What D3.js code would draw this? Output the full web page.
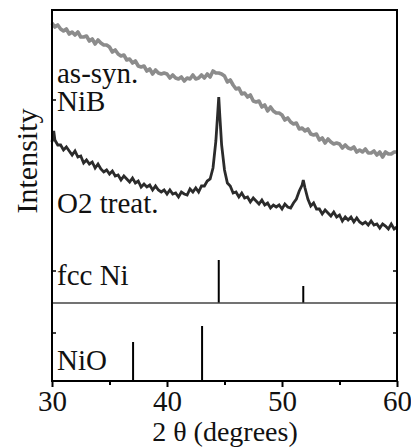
<!DOCTYPE html>
<html>
<head>
<meta charset="utf-8">
<script src="https://cdn.jsdelivr.net/npm/d3@7"></script>
</head>
<body style="margin:0">
<svg id="chart" width="411" height="447" font-family="Liberation Serif"></svg>
<script>
// [2 theta, intensity (a.u.)]
const asSynNiB = [
    [30.00, 280], [30.25, 276], [30.50, 278], [30.75, 274], [31.00, 272], [31.25, 274], [31.50, 269], [31.75, 271],
    [32.00, 268], [32.25, 271], [32.50, 266], [32.75, 266], [33.00, 267], [33.25, 262], [33.50, 264], [33.75, 259],
    [34.00, 263], [34.25, 260], [34.50, 258], [34.75, 258], [35.00, 256], [35.25, 251], [35.50, 253], [35.75, 249],
    [36.00, 247], [36.25, 248], [36.50, 243], [36.75, 244], [37.00, 240], [37.25, 242], [37.50, 237], [37.75, 236],
    [38.00, 237], [38.25, 232], [38.50, 234], [38.75, 229], [39.00, 233], [39.25, 230], [39.50, 229], [39.75, 230],
    [40.00, 229], [40.25, 225], [40.50, 228], [40.75, 225], [41.00, 224], [41.25, 226], [41.50, 222], [41.75, 225],
    [42.00, 224], [42.25, 228], [42.50, 224], [42.75, 225], [43.00, 228], [43.25, 225], [43.50, 229], [43.75, 226],
    [44.00, 232], [44.25, 230], [44.50, 230], [44.75, 229], [45.00, 227], [45.25, 221], [45.50, 223], [45.75, 218],
    [46.00, 214], [46.25, 215], [46.50, 209], [46.75, 210], [47.00, 206], [47.25, 208], [47.50, 202], [47.75, 201],
    [48.00, 202], [48.25, 196], [48.50, 198], [48.75, 192], [49.00, 196], [49.25, 192], [49.50, 190], [49.75, 190],
    [50.00, 188], [50.25, 183], [50.50, 185], [50.75, 181], [51.00, 179], [51.25, 180], [51.50, 174], [51.75, 175],
    [52.00, 172], [52.25, 174], [52.50, 169], [52.75, 168], [53.00, 169], [53.25, 163], [53.50, 165], [53.75, 160],
    [54.00, 164], [54.25, 161], [54.50, 159], [54.75, 160], [55.00, 159], [55.25, 155], [55.50, 158], [55.75, 155],
    [56.00, 154], [56.25, 156], [56.50, 151], [56.75, 153], [57.00, 151], [57.25, 154], [57.50, 150], [57.75, 150],
    [58.00, 152], [58.25, 148], [58.50, 151], [58.75, 146], [59.00, 151], [59.25, 149], [59.50, 149], [59.75, 151],
    [60.00, 151]
];

const o2Treated = [
    [30.00, 161], [30.15, 172], [30.25, 163], [30.50, 158], [30.75, 158], [31.00, 153], [31.25, 156], [31.50, 152],
    [31.75, 148], [32.00, 152], [32.25, 146], [32.50, 147], [32.75, 140], [33.00, 143], [33.25, 139], [33.50, 141],
    [33.75, 135], [34.00, 139], [34.25, 134], [34.50, 131], [34.75, 133], [35.00, 129], [35.25, 132], [35.50, 127],
    [35.75, 128], [36.00, 123], [36.25, 127], [36.50, 124], [36.75, 121], [37.00, 125], [37.25, 120], [37.50, 122],
    [37.75, 116], [38.00, 119], [38.25, 116], [38.50, 118], [38.75, 113], [39.00, 117], [39.25, 113], [39.50, 111],
    [39.75, 113], [40.00, 109], [40.25, 113], [40.50, 109], [40.75, 110], [41.00, 106], [41.25, 111], [41.50, 109],
    [41.75, 108], [42.00, 114], [42.25, 111], [42.50, 115], [42.75, 111], [43.00, 117], [43.25, 117], [43.50, 122],
    [43.75, 124], [44.00, 135], [44.25, 162], [44.40, 188], [44.50, 206], [44.60, 186], [44.75, 158], [45.00, 133],
    [45.25, 120], [45.50, 117], [45.75, 110], [46.00, 111], [46.25, 106], [46.50, 110], [46.75, 105], [47.00, 106],
    [47.25, 101], [47.50, 105], [47.75, 102], [48.00, 99], [48.25, 103], [48.50, 98], [48.75, 100], [49.00, 95],
    [49.25, 98], [49.50, 96], [49.75, 98], [50.00, 94], [50.25, 99], [50.50, 96], [50.75, 95], [51.00, 100],
    [51.25, 104], [51.50, 112], [51.75, 118], [51.85, 123], [52.00, 115], [52.25, 104], [52.50, 97], [52.75, 100],
    [53.00, 94], [53.25, 94], [53.50, 89], [53.75, 93], [54.00, 90], [54.25, 87], [54.50, 91], [54.75, 86],
    [55.00, 88], [55.25, 82], [55.50, 86], [55.75, 83], [56.00, 86], [56.25, 81], [56.50, 85], [56.75, 81],
    [57.00, 79], [57.25, 81], [57.50, 78], [57.75, 82], [58.00, 78], [58.25, 79], [58.50, 75], [58.75, 79],
    [59.00, 77], [59.25, 74], [59.50, 79], [59.75, 74], [60.00, 76]
];

// reference patterns: [2 theta, relative height]
const fccNiSticks = [[44.5, 43], [51.85, 17]];
const nioSticks = [[37.05, 39], [43.05, 55]];

const xMajorTicks = [30, 40, 50, 60];
const xMinorTicks = [35, 45, 55];

const plotLeft = 52, plotRight = 397, plotTop = 10, divider = 303, plotBottom = 381;

const svg = d3.select('#chart');

const x = d3.scaleLinear().domain([30, 60]).range([plotLeft, plotRight]);
const yUpper = d3.scaleLinear().domain([0, 293]).range([divider, plotTop]);
const yLower = d3.scaleLinear().domain([0, 78]).range([plotBottom, divider]);

const line = d3.line().x(d => x(d[0])).y(d => yUpper(d[1]));

svg.append('path')
    .datum(asSynNiB)
    .attr('d', line)
    .attr('fill', 'none')
    .attr('stroke', '#8c8c8c')
    .attr('stroke-width', 3.6)
    .attr('stroke-linejoin', 'round');

svg.append('path')
    .datum(o2Treated)
    .attr('d', line)
    .attr('fill', 'none')
    .attr('stroke', '#2b2b2b')
    .attr('stroke-width', 2.8)
    .attr('stroke-linejoin', 'miter');

svg.selectAll('.ni-stick')
    .data(fccNiSticks)
    .enter()
    .append('line')
    .attr('x1', d => x(d[0])).attr('x2', d => x(d[0]))
    .attr('y1', yUpper(0)).attr('y2', d => yUpper(d[1]))
    .attr('stroke', '#000')
    .attr('stroke-width', 2);

svg.selectAll('.nio-stick')
    .data(nioSticks)
    .enter()
    .append('line')
    .attr('x1', d => x(d[0])).attr('x2', d => x(d[0]))
    .attr('y1', yLower(0)).attr('y2', d => yLower(d[1]))
    .attr('stroke', '#000')
    .attr('stroke-width', 2);

// divider between the two panels
svg.append('line')
    .attr('x1', plotLeft).attr('x2', plotRight)
    .attr('y1', divider).attr('y2', divider)
    .attr('stroke', '#444')
    .attr('stroke-width', 1.5);

// frame
svg.append('rect')
    .attr('x', plotLeft).attr('y', plotTop)
    .attr('width', plotRight - plotLeft).attr('height', plotBottom - plotTop)
    .attr('fill', 'none')
    .attr('stroke', '#000')
    .attr('stroke-width', 2);

// small inward y ticks
const yTicks = [yUpper(203), yUpper(32), yLower(48)];
svg.selectAll('.ytick-l')
    .data(yTicks)
    .enter()
    .append('line')
    .attr('x1', plotLeft).attr('x2', plotLeft + 4)
    .attr('y1', d => d).attr('y2', d => d)
    .attr('stroke', '#000').attr('stroke-width', 1.5);
svg.selectAll('.ytick-r')
    .data(yTicks.slice(1))
    .enter()
    .append('line')
    .attr('x1', plotRight - 4).attr('x2', plotRight)
    .attr('y1', d => d).attr('y2', d => d)
    .attr('stroke', '#000').attr('stroke-width', 1.5);

const xAxis = svg.append('g')
    .attr('transform', `translate(0, ${plotBottom})`)
    .call(d3.axisBottom(x).tickValues(xMajorTicks).tickSize(6).tickPadding(3).tickFormat(d3.format('d')))
    .attr('font-family', 'Liberation Serif')
    .attr('font-size', 29);
xAxis.select('.domain').remove();
xAxis.selectAll('line').attr('stroke', '#000').attr('stroke-width', 2);
xAxis.selectAll('text').attr('fill', '#111');

const xMinor = svg.append('g')
    .attr('transform', `translate(0, ${plotBottom})`)
    .call(d3.axisBottom(x).tickValues(xMinorTicks).tickSize(4).tickFormat(''));
xMinor.select('.domain').remove();
xMinor.selectAll('line').attr('stroke', '#000').attr('stroke-width', 2);

svg.append('text')
    .attr('x', 225).attr('y', 441)
    .attr('text-anchor', 'middle')
    .attr('font-family', 'Liberation Serif')
    .attr('font-size', 28)
    .attr('fill', '#111')
    .text('2 θ (degrees)');

svg.append('text')
    .attr('transform', 'translate(37, 161) rotate(-90)')
    .attr('text-anchor', 'middle')
    .attr('font-family', 'Liberation Serif')
    .attr('font-size', 30)
    .attr('fill', '#111')
    .text('Intensity');

const labels = [
    { text: 'as-syn.', y: 83 },
    { text: 'NiB', y: 111 },
    { text: 'O2 treat.', y: 213 },
    { text: 'fcc Ni', y: 285 },
    { text: 'NiO', y: 370 }
];

svg.selectAll('.label')
    .data(labels)
    .enter()
    .append('text')
    .attr('x', 57)
    .attr('y', d => d.y)
    .attr('font-family', 'Liberation Serif')
    .attr('font-size', 29)
    .attr('fill', '#111')
    .text(d => d.text);
</script>
</body>
</html>
